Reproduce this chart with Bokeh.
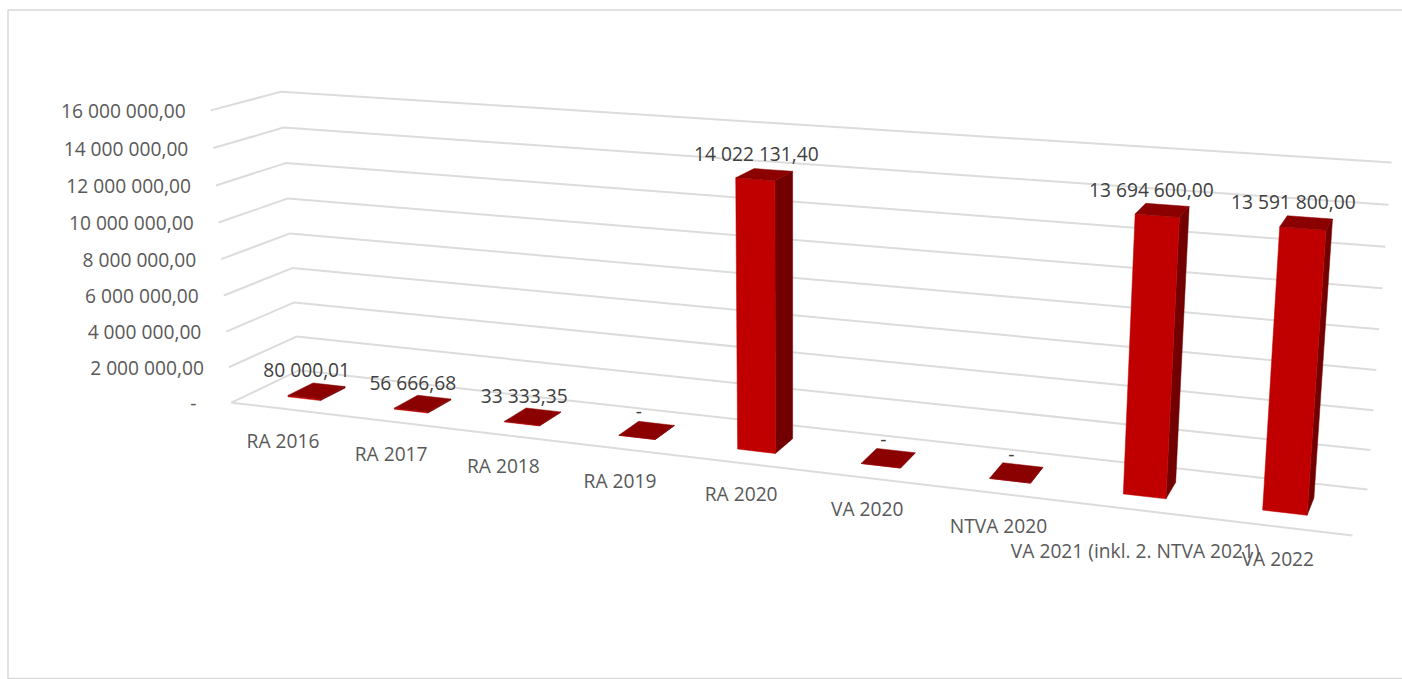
import numpy as np
from bokeh.plotting import figure
from bokeh.models import ColumnDataSource
from bokeh.core.properties import value
from bokeh.embed import file_html
from bokeh.resources import INLINE

categories = ["RA 2016", "RA 2017", "RA 2018", "RA 2019", "RA 2020", "VA 2020",
              "NTVA 2020", "VA 2021 (inkl. 2. NTVA 2021)", "VA 2022"]
values = [80000.01, 56666.68, 33333.35, 0, 14022131.40, 0, 0, 13694600.00, 13591800.00]
value_labels = ["80 000,01", "56 666,68", "33 333,35", "-", "14 022 131,40", "-", "-",
                "13 694 600,00", "13 591 800,00"]
tick_values = [0, 2000000, 4000000, 6000000, 8000000, 10000000, 12000000, 14000000, 16000000]
tick_labels = ["-", "2 000 000,00", "4 000 000,00", "6 000 000,00", "8 000 000,00",
               "10 000 000,00", "12 000 000,00", "14 000 000,00", "16 000 000,00"]
VMAX = 16000000

# Calibration of the 3D view: world (along, height, depth) -> page pixel
world = [(0,0,0),(1,0,0),(0,0,1),(1,0,1),(0,1,1),(1,1,1),(0,1,0)]
page = [(231,402),(1352,535),(298,370),(1367,489),(281,91),(1391,162),(210,110)]
A = []
for (X,Y,Z),(u,v) in zip(world,page):
    A.append([X,Y,Z,1,0,0,0,0,-u*X,-u*Y,-u*Z,-u])
    A.append([0,0,0,0,X,Y,Z,1,-v*X,-v*Y,-v*Z,-v])
M = np.linalg.svd(np.array(A,float))[2][-1].reshape(3,4)

def proj(a, val, d):
    q = M @ np.array([a, val / VMAX, d, 1.0])
    return q[0]/q[2], q[1]/q[2]

W, H = 1402, 679
p = figure(width=W, height=H, x_range=(0, W), y_range=(H, 0), toolbar_location=None,
           output_backend="svg", min_border=0, outline_line_color=None)
p.axis.visible = False
p.grid.visible = False
p.background_fill_color = "white"

FONT = value("Open Sans")
FS = "19.2px"

# frame
p.quad(left=[7.5], right=[W+5], top=[9.5], bottom=[678], fill_color=None, line_color="#D9D9D9", line_width=1.5)

# gridlines
GRID = "#DCDCDC"
xs, ys = [], []
for t in tick_values:
    pts = [proj(0,t,0), proj(0,t,1), proj(1,t,1)]
    xs.append([q[0] for q in pts]); ys.append([q[1] for q in pts])
a, b = proj(0,0,0), proj(1,0,0)
xs.append([a[0], b[0]]); ys.append([a[1], b[1]])
p.multi_line(xs, ys, line_color=GRID, line_width=2)

# bars
BW, D0, D1 = 0.0345, 0.30, 0.68
n = len(categories)
front, top, side = [], [], []
for i in range(n):
    c = (i + 0.5) / n
    l, r = c - BW/2, c + BW/2
    v = values[i]
    front.append([proj(l,0,D0), proj(r,0,D0), proj(r,v,D0), proj(l,v,D0)])
    top.append([proj(l,v,D0), proj(r,v,D0), proj(r,v,D1), proj(l,v,D1)])
    side.append([proj(r,0,D0), proj(r,0,D1), proj(r,v,D1), proj(r,v,D0)])
for polys, col in ((side, "#730000"), (front, "#C00000"), (top, "#8B0000")):
    p.patches([[q[0] for q in s] for s in polys], [[q[1] for q in s] for s in polys],
              fill_color=col, line_color=col, line_width=0.5)

# value axis labels
pad = [35 if lab == "-" else 25 for lab in tick_labels]
src = ColumnDataSource(dict(x=[proj(0,t,0)[0]-g for t,g in zip(tick_values,pad)],
                            y=[proj(0,t,0)[1] for t in tick_values], t=tick_labels))
p.text("x", "y", text="t", source=src, text_font=FONT, text_font_size=FS, text_color="#595959",
       text_align="right", text_baseline="middle")

# category labels
cat_dy = [32, 32, 30, 32, 30, 30, 32, 41, 32]
src = ColumnDataSource(dict(
    x=[proj((i+0.5)/n,0,0)[0]-1 for i in range(n)],
    y=[proj((i+0.5)/n,0,0)[1]+d for i,d in zip(range(n),cat_dy)], t=categories))
p.text("x", "y", text="t", source=src, text_font=FONT, text_font_size=FS, text_color="#595959",
       text_align="center", text_baseline="middle")

# value labels
lab_dx = [-10, -10, -8.5, -8, -8, -5, -5, -11, -13]
lab_dy = [-21, -21, -21, -19, -21, -19, -19, -21, -21]
pts = [proj((i+0.5)/n, values[i], (D0+D1)/2) for i in range(n)]
src = ColumnDataSource(dict(x=[q[0]+d for q,d in zip(pts,lab_dx)],
                            y=[q[1]+d for q,d in zip(pts,lab_dy)], t=value_labels))
p.text("x", "y", text="t", source=src, text_font=FONT, text_font_size=FS, text_color="#404040",
       text_align="center", text_baseline="middle")

open("out.html", "w").write(file_html(p, INLINE))
